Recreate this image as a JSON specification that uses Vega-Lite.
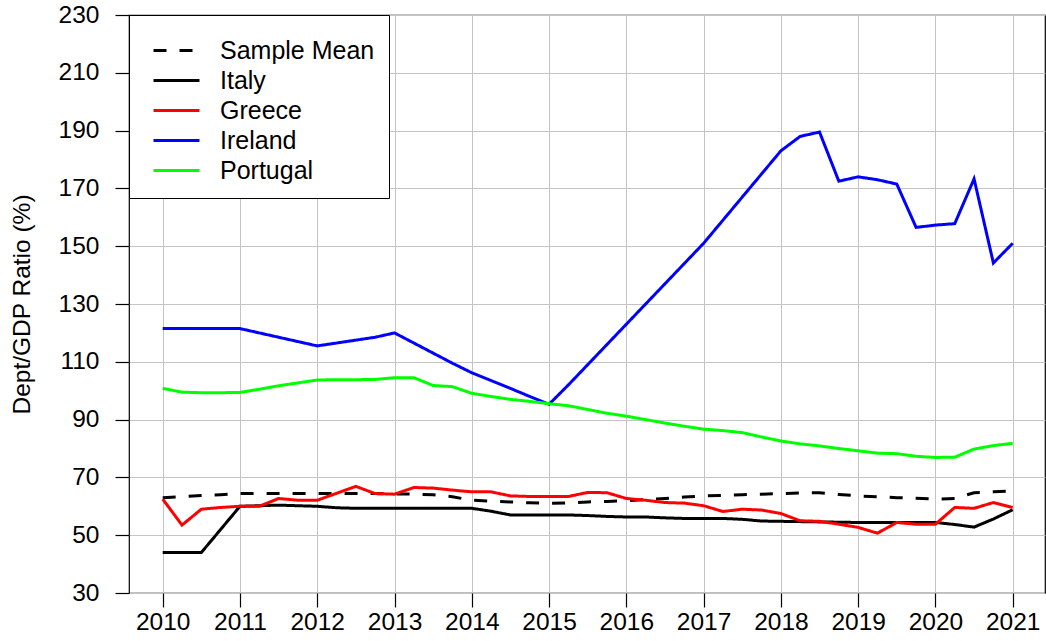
{
  "$schema": "https://vega.github.io/schema/vega-lite/v6.json",
  "width": 916,
  "height": 578,
  "autosize": {"type": "none"},
  "padding": {"left": 129, "top": 15, "right": 1, "bottom": 48},
  "background": "white",
  "config": {
    "font": "Liberation Sans",
    "view": {"stroke": "black", "strokeWidth": 1.2},
    "axis": {
      "labelFont": "Liberation Sans",
      "labelFontSize": 24.5,
      "labelColor": "black",
      "tickColor": "black",
      "tickSize": 14,
      "tickWidth": 1.2,
      "domain": false,
      "grid": true,
      "gridColor": "#c4c4c4",
      "gridWidth": 1,
      "titleFont": "Liberation Sans",
      "titleFontWeight": "normal",
      "titleColor": "black",
      "titleFontSize": 24.5
    },
    "legend": {
      "orient": "none",
      "legendX": 0,
      "legendY": 0,
      "fillColor": "white",
      "strokeColor": "black",
      "padding": 14,
      "titleFontSize": 1,
      "titlePadding": 4,
      "symbolType": "M-1.533,0H1.533",
      "symbolSize": 900,
      "symbolStrokeWidth": 3,
      "symbolOffset": 17,
      "labelFont": "Liberation Sans",
      "labelFontSize": 25,
      "labelColor": "black",
      "labelOffset": 27,
      "rowPadding": 0,
      "labelLimit": 300
    }
  },
  "data": {
    "values": [
      {"t": 2010.00, "Sample Mean": 63.0, "Italy": 44.0, "Greece": 62.5, "Ireland": 121.5, "Portugal": 100.8},
      {"t": 2010.25, "Sample Mean": 63.3, "Italy": 44.0, "Greece": 53.5, "Ireland": 121.5, "Portugal": 99.5},
      {"t": 2010.50, "Sample Mean": 63.7, "Italy": 44.0, "Greece": 59.0, "Ireland": 121.5, "Portugal": 99.3},
      {"t": 2010.75, "Sample Mean": 64.0, "Italy": 52.0, "Greece": 59.6, "Ireland": 121.5, "Portugal": 99.3},
      {"t": 2011.00, "Sample Mean": 64.4, "Italy": 60.0, "Greece": 60.0, "Ireland": 121.5, "Portugal": 99.4},
      {"t": 2011.25, "Sample Mean": 64.4, "Italy": 60.2, "Greece": 60.0, "Ireland": 120.0, "Portugal": 100.5},
      {"t": 2011.50, "Sample Mean": 64.4, "Italy": 60.4, "Greece": 62.7, "Ireland": 118.5, "Portugal": 101.7},
      {"t": 2011.75, "Sample Mean": 64.4, "Italy": 60.2, "Greece": 62.1, "Ireland": 117.0, "Portugal": 102.7},
      {"t": 2012.00, "Sample Mean": 64.4, "Italy": 60.0, "Greece": 62.1, "Ireland": 115.5, "Portugal": 103.7},
      {"t": 2012.25, "Sample Mean": 64.4, "Italy": 59.5, "Greece": 64.5, "Ireland": 116.5, "Portugal": 103.8},
      {"t": 2012.50, "Sample Mean": 64.4, "Italy": 59.3, "Greece": 66.9, "Ireland": 117.5, "Portugal": 103.8},
      {"t": 2012.75, "Sample Mean": 64.4, "Italy": 59.3, "Greece": 64.4, "Ireland": 118.5, "Portugal": 103.9},
      {"t": 2013.00, "Sample Mean": 64.3, "Italy": 59.3, "Greece": 64.2, "Ireland": 120.0, "Portugal": 104.5},
      {"t": 2013.25, "Sample Mean": 64.2, "Italy": 59.3, "Greece": 66.5, "Ireland": 116.5, "Portugal": 104.5},
      {"t": 2013.50, "Sample Mean": 64.0, "Italy": 59.3, "Greece": 66.3, "Ireland": 113.0, "Portugal": 101.8},
      {"t": 2013.75, "Sample Mean": 63.3, "Italy": 59.3, "Greece": 65.6, "Ireland": 109.5, "Portugal": 101.4},
      {"t": 2014.00, "Sample Mean": 62.1, "Italy": 59.3, "Greece": 65.0, "Ireland": 106.2, "Portugal": 99.1},
      {"t": 2014.25, "Sample Mean": 61.8, "Italy": 58.3, "Greece": 65.0, "Ireland": 103.5, "Portugal": 98.0},
      {"t": 2014.50, "Sample Mean": 61.5, "Italy": 57.0, "Greece": 63.6, "Ireland": 100.8, "Portugal": 97.0},
      {"t": 2014.75, "Sample Mean": 61.2, "Italy": 57.0, "Greece": 63.4, "Ireland": 98.0, "Portugal": 96.3},
      {"t": 2015.00, "Sample Mean": 61.0, "Italy": 57.0, "Greece": 63.4, "Ireland": 95.3, "Portugal": 95.5},
      {"t": 2015.25, "Sample Mean": 61.2, "Italy": 57.0, "Greece": 63.4, "Ireland": 102.0, "Portugal": 94.8},
      {"t": 2015.50, "Sample Mean": 61.5, "Italy": 56.8, "Greece": 64.8, "Ireland": 109.0, "Portugal": 93.5},
      {"t": 2015.75, "Sample Mean": 61.7, "Italy": 56.5, "Greece": 64.7, "Ireland": 116.0, "Portugal": 92.2},
      {"t": 2016.00, "Sample Mean": 61.9, "Italy": 56.3, "Greece": 62.7, "Ireland": 123.0, "Portugal": 91.2},
      {"t": 2016.25, "Sample Mean": 62.3, "Italy": 56.3, "Greece": 62.1, "Ireland": 130.0, "Portugal": 90.0},
      {"t": 2016.50, "Sample Mean": 62.7, "Italy": 56.0, "Greece": 61.3, "Ireland": 137.0, "Portugal": 88.8},
      {"t": 2016.75, "Sample Mean": 63.2, "Italy": 55.8, "Greece": 61.1, "Ireland": 144.0, "Portugal": 87.7},
      {"t": 2017.00, "Sample Mean": 63.6, "Italy": 55.8, "Greece": 60.2, "Ireland": 151.0, "Portugal": 86.7},
      {"t": 2017.25, "Sample Mean": 63.8, "Italy": 55.8, "Greece": 58.2, "Ireland": 159.0, "Portugal": 86.2},
      {"t": 2017.50, "Sample Mean": 64.0, "Italy": 55.5, "Greece": 59.0, "Ireland": 167.0, "Portugal": 85.5},
      {"t": 2017.75, "Sample Mean": 64.2, "Italy": 54.9, "Greece": 58.7, "Ireland": 175.0, "Portugal": 84.0},
      {"t": 2018.00, "Sample Mean": 64.4, "Italy": 54.8, "Greece": 57.5, "Ireland": 183.0, "Portugal": 82.6},
      {"t": 2018.25, "Sample Mean": 64.6, "Italy": 54.7, "Greece": 55.0, "Ireland": 188.0, "Portugal": 81.6},
      {"t": 2018.50, "Sample Mean": 64.7, "Italy": 54.6, "Greece": 54.8, "Ireland": 189.5, "Portugal": 80.9},
      {"t": 2018.75, "Sample Mean": 64.1, "Italy": 54.5, "Greece": 53.8, "Ireland": 172.5, "Portugal": 80.0},
      {"t": 2019.00, "Sample Mean": 63.6, "Italy": 54.4, "Greece": 52.7, "Ireland": 174.0, "Portugal": 79.2},
      {"t": 2019.25, "Sample Mean": 63.3, "Italy": 54.4, "Greece": 50.7, "Ireland": 173.0, "Portugal": 78.4},
      {"t": 2019.50, "Sample Mean": 63.0, "Italy": 54.4, "Greece": 54.4, "Ireland": 171.5, "Portugal": 78.2},
      {"t": 2019.75, "Sample Mean": 62.8, "Italy": 54.4, "Greece": 53.8, "Ireland": 156.5, "Portugal": 77.3},
      {"t": 2020.00, "Sample Mean": 62.5, "Italy": 54.4, "Greece": 53.8, "Ireland": 157.3, "Portugal": 76.9},
      {"t": 2020.25, "Sample Mean": 62.7, "Italy": 53.7, "Greece": 59.6, "Ireland": 157.8, "Portugal": 77.0},
      {"t": 2020.50, "Sample Mean": 64.7, "Italy": 52.8, "Greece": 59.3, "Ireland": 173.3, "Portugal": 79.8},
      {"t": 2020.75, "Sample Mean": 65.0, "Italy": 55.6, "Greece": 61.3, "Ireland": 144.2, "Portugal": 81.0},
      {"t": 2021.00, "Sample Mean": 65.3, "Italy": 58.8, "Greece": 59.6, "Ireland": 151.0, "Portugal": 81.8}
    ]
  },
  "transform": [
    {"fold": ["Sample Mean", "Italy", "Greece", "Ireland", "Portugal"], "as": ["series", "value"]}
  ],
  "mark": {"type": "line", "strokeWidth": 3, "clip": true},
  "encoding": {
    "x": {
      "field": "t",
      "type": "quantitative",
      "scale": {"domain": [2009.564, 2021.418], "nice": false, "zero": false},
      "axis": {
        "title": null,
        "values": [2010, 2011, 2012, 2013, 2014, 2015, 2016, 2017, 2018, 2019, 2020, 2021],
        "format": "d",
        "labelPadding": 3,
        "labelFlush": false
      }
    },
    "y": {
      "field": "value",
      "type": "quantitative",
      "scale": {"domain": [30, 230], "nice": false, "zero": false},
      "axis": {
        "title": "Dept/GDP Ratio (%)",
        "values": [30, 50, 70, 90, 110, 130, 150, 170, 190, 210, 230],
        "labelPadding": 16,
        "labelFlush": false,
        "titleAngle": -90,
        "titleBaseline": "middle",
        "titleAnchor": "middle",
        "titleX": -107,
        "titleY": 289
      }
    },
    "color": {
      "field": "series",
      "type": "nominal",
      "scale": {
        "domain": ["Sample Mean", "Italy", "Greece", "Ireland", "Portugal"],
        "range": ["#000000", "#000000", "#ff0000", "#0000ff", "#00ff00"]
      },
      "legend": {"title": " "}
    },
    "strokeDash": {
      "field": "series",
      "type": "nominal",
      "scale": {
        "domain": ["Sample Mean", "Italy", "Greece", "Ireland", "Portugal"],
        "range": [[13, 13], [1, 0], [1, 0], [1, 0], [1, 0]]
      },
      "legend": {"title": " "}
    }
  }
}
